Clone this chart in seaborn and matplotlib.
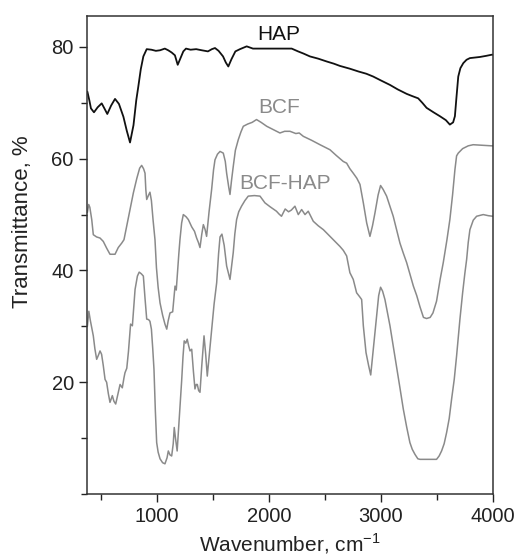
import matplotlib
matplotlib.use("Agg")
import matplotlib.pyplot as plt
import seaborn as sns
from matplotlib.ticker import MultipleLocator

# FTIR spectra: wavenumber (cm^-1) and transmittance (%)
hap_wn = [378, 395, 410, 437, 470, 506, 530, 556, 590, 625, 660, 700, 730, 759, 790, 815, 833,
          855, 878, 908, 950, 990, 1027, 1070, 1100, 1131, 1160, 1185, 1210, 1235, 1259, 1300,
          1350, 1400, 1455, 1490, 1518, 1550, 1590, 1615, 1637, 1665, 1700, 1741, 1801, 1857,
          1950, 2050, 2150, 2203, 2260, 2310, 2366, 2440, 2515, 2580, 2634, 2723, 2800, 2870,
          2931, 3000, 3081, 3150, 3230, 3280, 3333, 3370, 3408, 3470, 3527, 3580, 3616, 3645,
          3661, 3675, 3691, 3710, 3736, 3765, 3795, 3840, 3884, 3940, 3989, 4000]
hap_t = [72.0, 70.5, 69.0, 68.3, 69.2, 69.9, 69.0, 68.0, 69.5, 70.7, 69.8, 67.5, 65.0, 62.9,
         66.0, 70.5, 72.9, 76.0, 78.3, 79.6, 79.5, 79.3, 79.4, 79.7, 79.4, 79.0, 78.5, 76.8,
         78.0, 79.2, 79.7, 79.5, 79.6, 79.4, 79.2, 79.6, 79.8, 79.3, 78.3, 77.2, 76.5, 77.8,
         79.2, 79.6, 80.1, 79.7, 79.7, 79.7, 79.7, 79.7, 79.2, 78.8, 78.3, 77.9, 77.4, 77.0,
         76.6, 76.1, 75.6, 75.2, 74.7, 74.0, 73.2, 72.4, 71.6, 71.2, 70.8, 70.0, 69.1, 68.3,
         67.6, 66.9, 66.1, 66.5, 67.6, 71.0, 74.7, 76.2, 77.1, 77.7, 78.0, 78.1, 78.2, 78.4,
         78.6, 78.6]

bcf_wn = [378, 390, 400, 417, 431, 460, 491, 520, 550, 580, 625, 654, 685, 705, 729, 760, 789,
          820, 845, 863, 880, 893, 900, 908, 925, 937, 950, 965, 982, 995, 1010, 1027, 1050,
          1071, 1087, 1100, 1116, 1140, 1161, 1172, 1185, 1195, 1205, 1220, 1235, 1260, 1280,
          1310, 1335, 1354, 1370, 1384, 1400, 1414, 1430, 1443, 1465, 1488, 1505, 1518, 1540,
          1563, 1592, 1610, 1622, 1640, 1652, 1665, 1681, 1700, 1726, 1750, 1771, 1810, 1850,
          1889, 1930, 1980, 2039, 2070, 2098, 2140, 2188, 2240, 2270, 2307, 2380, 2456, 2545,
          2600, 2664, 2694, 2723, 2753, 2785, 2813, 2843, 2873, 2902, 2925, 2947, 2975, 2997,
          3020, 3051, 3080, 3110, 3140, 3170, 3200, 3230, 3260, 3290, 3320, 3349, 3380, 3408,
          3440, 3465, 3497, 3530, 3557, 3590, 3616, 3640, 3661, 3676, 3691, 3730, 3780, 3824,
          3900, 3989, 4000]
bcf_t = [50.4, 51.8, 51.3, 49.1, 46.4, 46.0, 45.8, 45.2, 44.0, 42.9, 42.9, 44.1, 44.9, 45.5,
         47.9, 51.0, 53.9, 56.5, 58.3, 58.8, 58.2, 57.4, 54.5, 52.7, 53.5, 54.0, 52.5, 49.0,
         45.5, 40.5, 37.0, 34.2, 32.0, 30.4, 29.5, 31.0, 32.4, 32.6, 37.2, 36.5, 40.2, 43.0,
         45.5, 48.5, 50.0, 49.6, 49.1, 47.8, 47.0, 45.8, 45.0, 44.1, 46.5, 48.2, 47.3, 46.1,
         50.5, 54.5, 58.0, 59.8, 60.8, 61.3, 61.0, 59.5, 57.4, 55.0, 53.6, 56.0, 58.6, 61.5,
         63.4, 64.8, 65.8, 66.2, 66.5, 67.0, 66.5, 65.8, 65.2, 64.9, 64.6, 64.9, 64.9, 64.5,
         64.6, 64.0, 63.3, 62.5, 61.6, 60.6, 59.5, 59.2, 58.2, 57.4, 56.5, 55.4, 52.1, 48.5,
         46.1, 48.0, 50.3, 53.5, 55.2, 54.5, 53.3, 51.5, 49.7, 47.3, 44.9, 43.1, 41.4, 39.3,
         37.2, 35.5, 33.5, 31.6, 31.4, 31.6, 32.4, 34.5, 38.5, 41.4, 45.5, 49.1, 53.5, 58.0,
         60.5, 61.0, 61.8, 62.3, 62.5, 62.4, 62.3, 62.3]

bcfhap_wn = [378, 391, 405, 431, 445, 461, 476, 491, 505, 520, 536, 550, 565, 580, 601, 615,
             631, 650, 670, 690, 705, 714, 730, 745, 764, 780, 804, 825, 841, 860, 878, 893,
             908, 925, 937, 950, 962, 973, 985, 997, 1010, 1027, 1050, 1071, 1090, 1101, 1116,
             1131, 1145, 1154, 1165, 1180, 1200, 1220, 1232, 1243, 1257, 1270, 1283, 1295, 1310,
             1325, 1339, 1350, 1360, 1372, 1384, 1400, 1420, 1435, 1449, 1465, 1488, 1510, 1533,
             1550, 1563, 1580, 1600, 1622, 1652, 1665, 1681, 1695, 1711, 1730, 1755, 1785, 1815,
             1870, 1920, 1964, 2010, 2067, 2090, 2112, 2145, 2175, 2200, 2232, 2262, 2292, 2322,
             2351, 2396, 2440, 2486, 2530, 2575, 2634, 2664, 2694, 2723, 2753, 2783, 2810, 2828,
             2843, 2867, 2890, 2909, 2932, 2962, 2980, 2997, 3015, 3036, 3081, 3110, 3140, 3170,
             3200, 3230, 3259, 3280, 3304, 3330, 3349, 3400, 3460, 3497, 3520, 3542, 3565, 3587,
             3610, 3631, 3655, 3676, 3706, 3730, 3750, 3766, 3780, 3795, 3825, 3855, 3914, 3960,
             4000]
bcfhap_t = [30.0, 32.7, 31.0, 28.3, 26.0, 24.1, 24.8, 25.6, 25.0, 23.0, 20.5, 20.0, 18.0, 16.4,
            17.6, 16.6, 16.1, 17.8, 19.6, 19.0, 20.8, 21.7, 22.5, 25.5, 30.4, 30.1, 36.6, 39.0,
            39.7, 39.4, 39.0, 35.0, 31.3, 31.2, 30.9, 29.5, 26.0, 22.3, 15.0, 9.2, 7.5, 6.3,
            5.6, 5.4, 6.5, 7.7, 7.0, 6.8, 9.0, 11.9, 10.0, 7.7, 14.0, 20.2, 24.5, 27.4, 27.0,
            27.7, 26.5, 25.6, 25.9, 22.0, 18.8, 19.6, 19.6, 18.5, 18.2, 23.0, 28.3, 25.0, 21.1,
            24.5, 29.5, 34.0, 37.8, 43.0, 46.0, 46.5, 44.5, 40.8, 38.4, 40.5, 43.2, 46.5, 49.1,
            50.5, 51.5, 52.5, 53.3, 53.4, 53.3, 52.1, 51.4, 50.6, 50.1, 49.7, 51.0, 50.5, 50.8,
            51.5, 50.0, 50.9, 50.0, 50.6, 48.8, 48.0, 47.3, 46.4, 45.5, 44.3, 43.6, 42.6, 39.6,
            38.4, 36.0, 35.3, 34.8, 30.1, 25.3, 23.0, 21.3, 25.9, 31.8, 35.5, 37.0, 36.3, 34.8,
            30.1, 26.5, 22.9, 19.0, 15.2, 12.0, 9.2, 8.0, 7.1, 6.3, 6.2, 6.2, 6.2, 6.2, 6.8,
            7.7, 9.0, 11.0, 13.5, 16.9, 20.5, 24.7, 31.3, 36.0, 39.5, 42.0, 45.0, 47.3, 49.0,
            49.7, 50.0, 49.8, 49.7]

series_names = ["HAP", "BCF", "BCF-HAP"]
series_colors = ["#111111", "#8a8a8a", "#8a8a8a"]
label_pos = [(1893, 82.2), (1902, 69.1), (1737, 55.5)]

sns.set_style("ticks")
plt.rcParams["font.family"] = ["Liberation Sans", "DejaVu Sans"]
plt.rcParams["mathtext.fontset"] = "custom"
plt.rcParams["mathtext.rm"] = "Liberation Sans"

fig = plt.figure(figsize=(5.15, 5.58), dpi=100)
ax = fig.add_axes([0.169, 0.1147, 0.788, 0.8563])

data = [(hap_wn, hap_t), (bcf_wn, bcf_t), (bcfhap_wn, bcfhap_t)]
for (wn, t), color, lw in zip(data, series_colors, [1.3, 1.1, 1.1]):
    sns.lineplot(x=wn, y=t, color=color, linewidth=lw, ax=ax, sort=False,
                 estimator=None)

for name, color, (lx, ly) in zip(series_names, series_colors, label_pos):
    ax.text(lx, ly, name, color=color, fontsize=15, ha="left", va="center")

ax.set_xlim(375, 4000)
ax.set_ylim(0, 85.5)
ax.xaxis.set_major_locator(MultipleLocator(1000))
ax.xaxis.set_minor_locator(MultipleLocator(500))
ax.yaxis.set_minor_locator(MultipleLocator(10))
ax.set_yticks([20, 40, 60, 80])
ax.tick_params(which="both", direction="out", length=5.5, width=1.0,
               labelsize=14.5, colors="#222222", pad=4)
ax.tick_params(which="minor", length=4.5)

for side in ["left", "right", "top", "bottom"]:
    ax.spines[side].set_visible(True)
    ax.spines[side].set_color("#333333")
    ax.spines[side].set_linewidth(1.1)

ax.set_xlabel("Wavenumber, cm$^{-1}$", fontsize=15, color="#222222")
ax.xaxis.set_label_coords(0.5, -0.105)
ax.xaxis.label.set_va("center")
ax.set_ylabel("Transmittance, %", fontsize=16, color="#222222")
ax.yaxis.set_label_coords(-0.16, 0.57)
ax.yaxis.label.set_va("center")

fig.savefig("out.png", dpi=100)
